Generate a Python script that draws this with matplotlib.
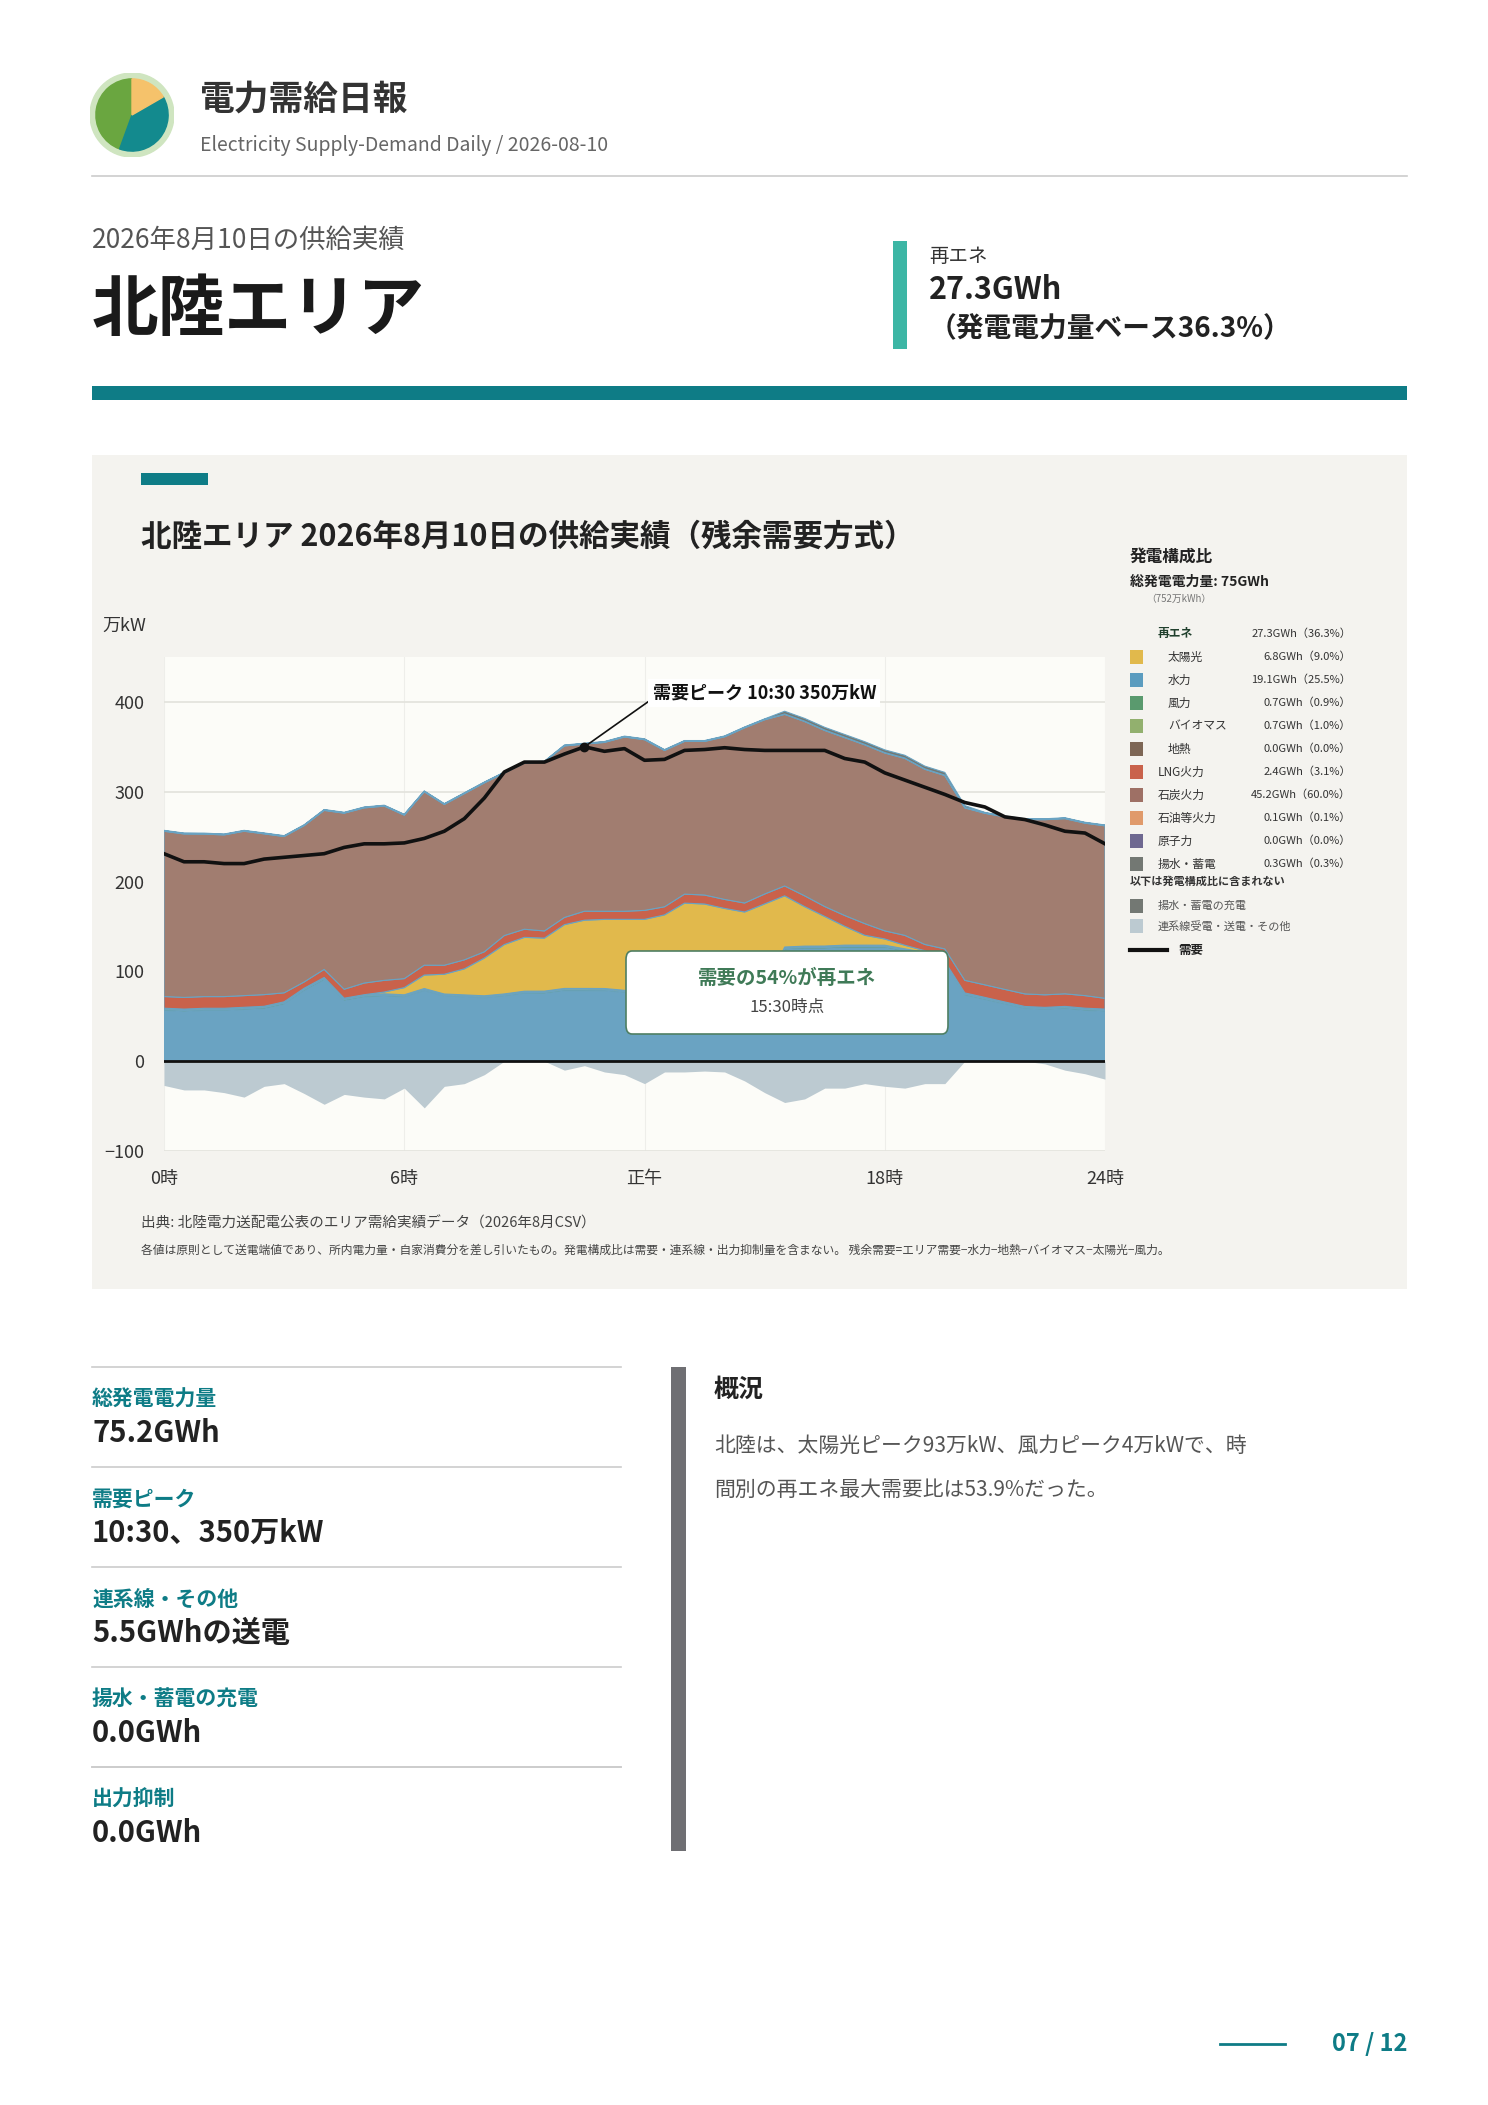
import matplotlib
matplotlib.use("Agg")
import matplotlib.pyplot as plt
import numpy as np
from matplotlib.patches import Rectangle, FancyBboxPatch, Wedge, Circle

plt.rcParams["font.family"] = ["Noto Sans CJK JP", "DejaVu Sans"]

W, H = 1488, 2105

# half-hourly values (万kW), 0:00 .. 23:30
hours = np.arange(48) * 0.5
hydro = [56, 55, 56, 56, 57, 58, 63, 78, 90, 67, 71, 72, 71, 78, 72, 71,
         70, 72, 75, 75, 78, 78, 78, 76, 74, 75, 75, 76, 76, 75, 75, 124,
         125, 125, 126, 126, 126, 122, 118, 108, 73, 68, 63, 58, 57, 58, 56, 55]
wind = [1.5, 1.5, 1.4, 1.4, 1.5, 1.6, 1.6, 1.7, 1.7, 1.6, 1.5, 1.5, 1.4, 1.4, 1.3, 1.3,
        1.3, 1.4, 1.4, 1.5, 1.5, 1.5, 1.4, 1.4, 1.4, 1.4, 1.5, 1.5, 1.6, 1.6, 1.6, 1.6,
        1.6, 1.7, 1.7, 1.7, 1.6, 1.6, 1.5, 1.5, 1.5, 1.5, 1.4, 1.4, 1.4, 1.5, 1.5, 1.5]
biomass = [1.5] * 48
geothermal = [0] * 48
solar = [0, 0, 0, 0, 0, 0, 0, 0, 0, 0, 0, 2, 8, 15, 22, 29,
         42, 55, 60, 59, 71, 76, 77, 79, 81, 85, 98, 96, 91, 88, 97, 57,
         44, 33, 21, 11, 7, 4, 2, 0, 0, 0, 0, 0, 0, 0, 0, 0]
lng = [13, 13, 13, 13, 13, 13, 10, 7, 9, 10, 13, 13, 10, 11, 10, 10,
       7, 10, 9, 8, 8, 10, 9, 9, 10, 9, 10, 10, 10, 10, 11, 11,
       12, 11, 12, 13, 9, 11, 7, 14, 14, 14, 14, 14, 14, 14, 14, 12]
coal = [184, 182, 181, 180, 183, 179, 174, 174, 177, 196, 195, 194, 182, 193, 179, 185,
        188, 181, 185, 188, 191, 186, 188, 194, 190, 174, 170, 171, 181, 195, 194, 191,
        194, 196, 198, 199, 198, 197, 195, 193, 192, 191, 192, 194, 195, 195, 192, 192]
oil = [0.5] * 48
nuclear = [0] * 48
pumped = [0.5] * 31 + [3, 3, 3, 3, 3, 3, 3, 3, 3, 2] + [0.5] * 7
interconnect = [-27, -32, -32, -35, -40, -28, -25, -36, -48, -37, -40, -42, -30, -52, -28, -25,
                -15, 0, 0, 0, -10, -5, -12, -15, -25, -12, -12, -11, -12, -22, -35, -46,
                -42, -30, -30, -25, -28, -30, -25, -25, 0, 0, 0, 0, -3, -10, -14, -20]
demand = [231, 222, 222, 220, 220, 225, 227, 229, 231, 238, 242, 242, 243, 248, 256, 270,
          293, 322, 333, 333, 342, 350, 345, 348, 335, 336, 346, 347, 349, 347, 346, 346,
          346, 346, 337, 333, 321, 313, 305, 297, 288, 283, 272, 269, 263, 256, 254, 242]

legend_names = ["太陽光", "水力", "風力", "バイオマス", "地熱", "LNG火力", "石炭火力",
                "石油等火力", "原子力", "揚水・蓄電"]
legend_values = ["6.8GWh（9.0%）", "19.1GWh（25.5%）", "0.7GWh（0.9%）", "0.7GWh（1.0%）",
                 "0.0GWh（0.0%）", "2.4GWh（3.1%）", "45.2GWh（60.0%）", "0.1GWh（0.1%）",
                 "0.0GWh（0.0%）", "0.3GWh（0.3%）"]

kpi_labels = ["総発電電力量", "需要ピーク", "連系線・その他", "揚水・蓄電の充電", "出力抑制"]
kpi_values = ["75.2GWh", "10:30、350万kW", "5.5GWhの送電", "0.0GWh", "0.0GWh"]

TEAL = "#0e7c86"
C = {"solar": "#e1b94c", "hydro": "#6aa3c2", "wind": "#5a9a6e", "biomass": "#9bb97a",
     "geo": "#7d6655", "lng": "#c9624b", "coal": "#a17d70", "oil": "#e09a6b",
     "nuclear": "#6e6890", "pumped": "#737873", "ic": "#bccad1"}
legend_colors = [C["solar"], "#5b9cbf", C["wind"], "#92b06e", C["geo"], C["lng"], "#9e7065",
                 C["oil"], C["nuclear"], C["pumped"]]

fig = plt.figure(figsize=(W / 100, H / 100), dpi=100)
fig.patch.set_facecolor("white")


def fx(x):
    return x / W


def fy(y):
    return 1 - y / H


def txt(x, y, s, **kw):
    kw.setdefault("va", "center")
    fig.text(fx(x), fy(y), s, **kw)


def hline(x0, x1, y, color, lw):
    fig.add_artist(plt.Line2D([fx(x0), fx(x1)], [fy(y), fy(y)], color=color, lw=lw))


def rect(x0, y0, x1, y1, color, **kw):
    fig.add_artist(Rectangle((fx(x0), fy(y1)), fx(x1) - fx(x0), fy(y0) - fy(y1),
                             transform=fig.transFigure, facecolor=color, edgecolor="none", **kw))


# header logo
lax = fig.add_axes([fx(90), fy(157), fx(84), 84 / H])
lax.set_xlim(-1, 1)
lax.set_ylim(-1, 1)
lax.set_aspect("equal")
lax.axis("off")
lax.add_patch(Circle((0, 0), 1.0, color="#cfe5c0"))
lax.add_patch(Wedge((0, 0), 0.86, 90, 250, color="#6aa640"))
lax.add_patch(Wedge((0, 0), 0.86, 250, 30, color="#138a8e"))
lax.add_patch(Wedge((0, 0), 0.86, 30, 90, color="#f5c26b"))

txt(200, 99, "電力需給日報", fontsize=25, fontweight="bold", color="#333333")
txt(200, 146, "Electricity Supply-Demand Daily / 2026-08-10", fontsize=14, color="#666666")
hline(92, 1407, 176, "#cccccc", 1.2)

txt(92, 240, "2026年8月10日の供給実績", fontsize=19, color="#555555")
txt(92, 311, "北陸エリア", fontsize=48, fontweight="bold", color="#1a1a1a")
rect(893, 241, 907, 349, "#3cb6a5")
txt(929, 256, "再エネ", fontsize=14, color="#333333")
txt(929, 290, "27.3GWh", fontsize=22, fontweight="bold", color="#222222")
txt(929, 329, "（発電電力量ベース36.3%）", fontsize=20, fontweight="bold", color="#222222")
rect(92, 386, 1407, 400, TEAL)

# chart panel
rect(92, 455, 1407, 1289, "#f4f3ef", zorder=0)
rect(141, 473, 208, 485, TEAL)
txt(141, 537, "北陸エリア 2026年8月10日の供給実績（残余需要方式）", fontsize=22,
    fontweight="bold", color="#222222")

ax = fig.add_axes([fx(164), fy(1151), fx(1105) - fx(164), (1151 - 657) / H])
ax.set_facecolor("#fcfcf8")
stack = [hydro, wind, biomass, geothermal, solar, lng, coal, oil, nuclear, pumped]
colors = [C["hydro"], C["wind"], C["biomass"], C["geo"], C["solar"], C["lng"], C["coal"],
          C["oil"], C["nuclear"], C["pumped"]]
ax.stackplot(hours, *stack, colors=colors, edgecolor=colors, lw=0.8, zorder=2)
ax.fill_between(hours, interconnect, 0, color=C["ic"], lw=0, zorder=2)
ax.plot(hours, demand, color="#111111", lw=2.6, zorder=4)
ax.axhline(0, color="#111111", lw=2, zorder=4)
ax.set_xlim(0, 23.5)
ax.set_ylim(-100, 450)
ax.set_yticks([-100, 0, 100, 200, 300, 400])
ax.set_xticks([0, 6, 12, 18, 23.5])
ax.set_xticklabels(["0時", "6時", "正午", "18時", "24時"])
ax.grid(axis="y", color="#e2e2dc", lw=1.2, zorder=1)
ax.grid(axis="x", color="#eeeeea", lw=0.8, zorder=1)
ax.tick_params(length=0, labelsize=13, colors="#333333", pad=14)
for s in ax.spines.values():
    s.set_visible(False)
txt(102, 626, "万kW", fontsize=13, color="#333333")

ipk = int(np.argmax(demand))
ax.plot(hours[ipk], demand[ipk], "o", color="#111111", ms=6, zorder=5)
ax.annotate("需要ピーク 10:30 350万kW", xy=(hours[ipk], demand[ipk]), xytext=(12.2, 410),
            fontsize=13, fontweight="bold", ha="left", va="center", color="#111111",
            bbox=dict(facecolor="white", edgecolor="none", pad=3),
            arrowprops=dict(arrowstyle="-", color="#111111", lw=1.2,
                            shrinkA=0, shrinkB=0, relpos=(0, 0.2)), zorder=6)

fig.add_artist(FancyBboxPatch((fx(626), fy(1034)), fx(948) - fx(626), (1034 - 951) / H,
                              boxstyle="round,pad=0,rounding_size=0.004",
                              transform=fig.transFigure, facecolor="white",
                              edgecolor="#4f7f63", lw=1.2, zorder=10))
txt(787, 978, "需要の54%が再エネ", fontsize=14, fontweight="bold", color="#3f7a57",
    ha="center", zorder=11)
txt(787, 1007, "15:30時点", fontsize=12, color="#444444", ha="center", zorder=11)

txt(141, 1223, "出典: 北陸電力送配電公表のエリア需給実績データ（2026年8月CSV）", fontsize=10.5,
    color="#444444")
txt(141, 1250, "各値は原則として送電端値であり、所内電力量・自家消費分を差し引いたもの。"
    "発電構成比は需要・連系線・出力抑制量を含まない。 残余需要=エリア需要−水力−地熱−バイオマス−太陽光−風力。",
    fontsize=8.5, color="#444444")

# legend
txt(1130, 557, "発電構成比", fontsize=12, fontweight="bold", color="#222222")
txt(1130, 582, "総発電電力量: 75GWh", fontsize=10, fontweight="bold", color="#222222")
txt(1146, 599, "（752万kWh）", fontsize=7, color="#777777")
txt(1158, 634, "再エネ", fontsize=8.5, fontweight="bold", color="#1f3f2c")
txt(1351, 634, "27.3GWh（36.3%）", fontsize=8, color="#333333", ha="right")
for i, (nm, val, col) in enumerate(zip(legend_names, legend_values, legend_colors)):
    y = 657 + i * 23
    rect(1130, y - 7, 1143, y + 7, col)
    txt(1168 if i < 5 else 1158, y, nm, fontsize=8.5, color="#333333")
    txt(1351, y, val, fontsize=8, color="#333333", ha="right")
txt(1130, 881, "以下は発電構成比に含まれない", fontsize=8, fontweight="bold", color="#333333")
rect(1130, 899, 1143, 913, C["pumped"])
txt(1158, 906, "揚水・蓄電の充電", fontsize=8, color="#555555")
rect(1130, 919, 1143, 933, C["ic"])
txt(1158, 926, "連系線受電・送電・その他", fontsize=8, color="#555555")
hline(1130, 1167, 950, "#111111", 3)
txt(1178, 950, "需要", fontsize=9, fontweight="bold", color="#222222")

# KPI column
for i, (lb, vl) in enumerate(zip(kpi_labels, kpi_values)):
    y0 = 1367 + i * 100
    hline(92, 621, y0, "#cccccc", 1.2)
    txt(92, y0 + 32, lb, fontsize=15, fontweight="bold", color=TEAL)
    txt(92, y0 + 66, vl, fontsize=21, fontweight="bold", color="#222222")
hline(92, 621, 1767, "#cccccc", 1.2)

rect(671, 1367, 686, 1851, "#6f6f73")
txt(714, 1390, "概況", fontsize=18, fontweight="bold", color="#222222")
txt(714, 1446, "北陸は、太陽光ピーク93万kW、風力ピーク4万kWで、時", fontsize=15, color="#555555")
txt(714, 1490, "間別の再エネ最大需要比は53.9%だった。", fontsize=15, color="#555555")

hline(1220, 1285, 2044, TEAL, 2)
txt(1407, 2044, "07 / 12", fontsize=17, fontweight="bold", color=TEAL, ha="right")

fig.savefig("out.png", dpi=100, facecolor="white")
